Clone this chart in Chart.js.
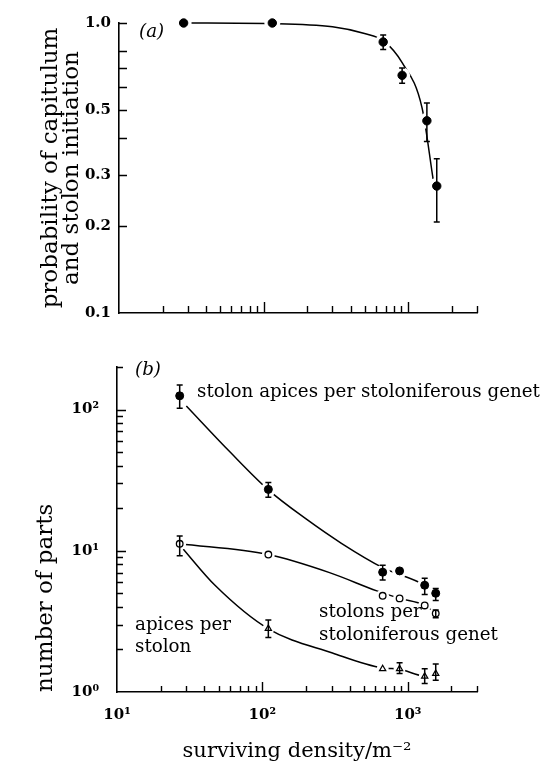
<!DOCTYPE html>
<html>
<head>
<meta charset="utf-8">
<script src="https://cdn.jsdelivr.net/npm/chart.js@4.4.0/dist/chart.umd.min.js"></script>
<style>
  html, body { margin: 0; padding: 0; background: #fff; }
  #wrap { position: relative; width: 545px; height: 764px; overflow: hidden; font-family: 'DejaVu Serif', serif; color: #000; }
  canvas { position: absolute; left: 0; }
  #chartA { top: 0; }
  #chartB { top: 340px; }
  .note { position: absolute; font-size: 18.3px; line-height: 23px; white-space: nowrap; }
</style>
</head>
<body>
<div id="wrap">
  <canvas id="chartA" width="545" height="340"></canvas>
  <canvas id="chartB" width="545" height="424"></canvas>
  <div class="note" style="left:139px;top:19px;font-style:italic">(a)</div>
  <div class="note" style="left:135px;top:357px;font-style:italic">(b)</div>
  <div class="note" style="left:197px;top:379px">stolon apices per stoloniferous genet</div>
  <div class="note" style="left:319px;top:599px">stolons per<br>stoloniferous genet</div>
  <div class="note" style="left:135px;top:613px;line-height:22px">apices per<br>stolon</div>
</div>
<script>
// --- (a) probability of capitulum and stolon initiation ---
const densityA = [28, 115, 673, 910, 1350, 1580];
const probA    = [1.0, 1.0, 0.86, 0.66, 0.46, 0.274];
const probLo   = [null, null, 0.81, 0.62, 0.39, 0.206];
const probHi   = [null, null, 0.91, 0.70, 0.53, 0.34];
// fitted curve
const fitXA = [28, 115, 300, 500, 673, 910, 1250, 1490];
const fitYA = [1.0, 0.995, 0.97, 0.92, 0.87, 0.73, 0.51, 0.29];

// --- (b) number of parts ---
const densityB = [27, 110, 673, 880, 1310, 1560];
const apicesPerGenet = [125, 27.2, 7.05, 7.2, 5.7, 5.0];
const apicesGenetLo  = [102, 23.9, 6.2, null, 4.9, 4.45];
const apicesGenetHi  = [149, 30.4, 7.9, null, 6.4, 5.4];
const stolonsPerGenet = [11.2, 9.4, 4.8, 4.6, 4.1, 3.6];
const stolonsLo       = [9.2, null, null, null, null, 3.35];
const stolonsHi       = [12.7, null, null, null, null, 3.8];
const apicesPerStolon = [11.1, 2.81, 1.46, 1.46, 1.29, 1.35];
const apicesStolonLo  = [null, 2.43, null, 1.35, 1.15, 1.21];
const apicesStolonHi  = [null, 3.24, null, 1.61, 1.46, 1.58];

const fitX1 = [30, 60, 110, 200, 350, 673, 1310, 1560];
const fitY1 = [106, 50, 27, 16.8, 11.3, 7.6, 5.7, 5.0];
const fitX2 = [27, 110, 290, 614, 880, 1310, 1560];
const fitY2 = [11.2, 9.4, 7.0, 5.2, 4.6, 4.1, 3.6];
const fitX3 = [27, 48, 110, 304, 673, 880, 1310, 1560];
const fitY3 = [11.0, 5.6, 2.8, 1.89, 1.48, 1.45, 1.3, 1.33];

// --- axes ---
const xTicks = [10, 20, 30, 40, 50, 60, 70, 80, 90, 100, 200, 300, 400, 500, 600, 700, 800, 900, 1000, 2000, 3000];
const xLabelled = [10, 100, 1000];
const xTickLabels = ['10¹', '10²', '10³'];
const yTicksA = [0.1, 0.2, 0.3, 0.4, 0.5, 0.6, 0.7, 0.8, 1.0];
const yLabelledA = [0.1, 0.2, 0.3, 0.5, 1.0];
const yTicksB = [1, 2, 3, 4, 5, 6, 7, 8, 9, 10, 20, 30, 40, 50, 60, 70, 80, 90, 100, 200];
const yLabelledB = [1, 10, 100];
const yTickLabelsB = ['10⁰', '10¹', '10²'];

Chart.defaults.font.family = "'DejaVu Serif', serif";
Chart.defaults.color = '#000';

function pts(xs, ys) { return xs.map((x, i) => ({ x: x, y: ys[i] })); }
const isDecade = v => Math.abs(Math.log10(v) - Math.round(Math.log10(v))) < 1e-9;

// tick marks pointing into the plot
const inTicks = {
  id: 'inTicks',
  afterDraw(chart, args, o) {
    const ctx = chart.ctx, xs = chart.scales.x, ys = chart.scales.y;
    ctx.save();
    ctx.strokeStyle = '#000';
    ctx.lineWidth = 1.4;
    ctx.beginPath();
    xs.ticks.forEach(t => {
      if (t.value === xs.min) return;
      const px = Math.round(xs.getPixelForValue(t.value)) + 0.5;
      const len = isDecade(t.value) ? o.xMajor : o.xMinor;
      ctx.moveTo(px, ys.bottom); ctx.lineTo(px, ys.bottom - len);
    });
    ys.ticks.forEach(t => {
      if (t.value === ys.min) return;
      const py = Math.round(ys.getPixelForValue(t.value)) + 0.5;
      const len = o.yLabelled.includes(t.value) ? o.yMajor : o.yMinor;
      ctx.moveTo(xs.left, py); ctx.lineTo(xs.left + len, py);
    });
    ctx.stroke();
    ctx.restore();
  }
};

// white gap round the markers, so the fitted lines stop short of them
const halo = {
  id: 'halo',
  beforeDatasetDraw(chart, args) {
    const ds = chart.data.datasets[args.index];
    if (!ds.halo) return;
    const ctx = chart.ctx;
    ctx.save();
    ctx.fillStyle = '#fff';
    args.meta.data.forEach(p => { ctx.beginPath(); ctx.arc(p.x, p.y, ds.halo, 0, Math.PI * 2); ctx.fill(); });
    ctx.restore();
  }
};

const errorBars = {
  id: 'errorBars',
  afterDatasetsDraw(chart) {
    const ctx = chart.ctx, ys = chart.scales.y;
    ctx.save();
    ctx.strokeStyle = '#000';
    ctx.lineWidth = 1.5;
    chart.data.datasets.forEach((ds, i) => {
      if (!ds.errLo) return;
      chart.getDatasetMeta(i).data.forEach((p, j) => {
        if (ds.errLo[j] == null) return;
        const lo = ys.getPixelForValue(ds.errLo[j]);
        const hi = ys.getPixelForValue(ds.errHi[j]);
        ctx.beginPath();
        ctx.moveTo(p.x, lo); ctx.lineTo(p.x, hi);
        ctx.moveTo(p.x - 3, lo); ctx.lineTo(p.x + 3, lo);
        ctx.moveTo(p.x - 3, hi); ctx.lineTo(p.x + 3, hi);
        ctx.stroke();
      });
    });
    ctx.restore();
  }
};

function fitLine(xs, ys) {
  return {
    data: pts(xs, ys), showLine: true, borderColor: '#000', borderWidth: 1.5,
    pointRadius: 0, cubicInterpolationMode: 'monotone', order: 10, clip: false
  };
}

const tickFont = { family: "'DejaVu Serif', serif", size: 15, weight: 'bold' };
const titleFont = { family: "'DejaVu Serif', serif", size: 23, lineHeight: 0.9 };
const xTitleFont = { family: "'DejaVu Serif', serif", size: 21, lineHeight: 1.0 };

function xScale(showLabels, height, title) {
  return {
    type: 'logarithmic', min: 10, max: 3000,
    afterBuildTicks: s => { s.ticks = xTicks.map(v => ({ value: v })); },
    afterFit: s => { s.height = height; },
    grid: { display: false, drawTicks: false },
    border: { display: true, color: '#000', width: 1.6 },
    ticks: {
      display: showLabels, autoSkip: false, maxRotation: 0, padding: 14, font: tickFont,
      callback: v => { const k = xLabelled.indexOf(v); return k < 0 ? '' : xTickLabels[k]; }
    },
    title: title
  };
}

// --- chart (a) ---
new Chart(document.getElementById('chartA'), {
  type: 'scatter',
  data: {
    datasets: [
      fitLine(fitXA, fitYA),
      {
        data: pts(densityA, probA), errLo: probLo, errHi: probHi, halo: 8,
        pointRadius: 4.2, pointBackgroundColor: '#000', pointBorderColor: '#000', pointBorderWidth: 1,
        order: 1, clip: false
      }
    ]
  },
  options: {
    responsive: false, animation: false, events: [],
    layout: { padding: { top: 23, right: 68, left: 0, bottom: 0 } },
    plugins: { legend: { display: false }, tooltip: { enabled: false },
      inTicks: { xMajor: 11, xMinor: 7, yMajor: 8, yMinor: 8, yLabelled: yLabelledA } },
    scales: {
      x: xScale(false, 27, { display: false }),
      y: {
        type: 'logarithmic', min: 0.1, max: 1.0,
        afterBuildTicks: s => { s.ticks = yTicksA.map(v => ({ value: v })); },
        afterFit: s => { s.width = 119; },
        grid: { display: false, drawTicks: false },
        border: { display: true, color: '#000', width: 1.6 },
        ticks: { autoSkip: false, padding: 8, font: tickFont,
          callback: v => yLabelledA.includes(v) ? v.toFixed(1) : '' },
        title: { display: true, text: ['probability of capitulum', 'and stolon initiation'],
          font: titleFont, padding: { top: 41, bottom: 0 } }
      }
    }
  },
  plugins: [inTicks, halo, errorBars]
});

// --- chart (b) ---
new Chart(document.getElementById('chartB'), {
  type: 'scatter',
  data: {
    datasets: [
      fitLine(fitX1, fitY1),
      fitLine(fitX2, fitY2),
      fitLine(fitX3, fitY3),
      {
        data: pts(densityB, apicesPerStolon), errLo: apicesStolonLo, errHi: apicesStolonHi, halo: 6,
        pointStyle: 'triangle', pointRadius: 3.6, pointBackgroundColor: '#fff', pointBorderColor: '#000', pointBorderWidth: 1.2,
        order: 3, clip: false
      },
      {
        data: pts(densityB, stolonsPerGenet), errLo: stolonsLo, errHi: stolonsHi, halo: 6.5,
        pointRadius: 3.3, pointBackgroundColor: '#fff', pointBorderColor: '#000', pointBorderWidth: 1.3,
        order: 2, clip: false
      },
      {
        data: pts(densityB, apicesPerGenet), errLo: apicesGenetLo, errHi: apicesGenetHi, halo: 7.5,
        pointRadius: 4, pointBackgroundColor: '#000', pointBorderColor: '#000', pointBorderWidth: 1,
        order: 1, clip: false
      }
    ]
  },
  options: {
    responsive: false, animation: false, events: [],
    layout: { padding: { top: 19, right: 68, left: 0, bottom: 0 } },
    plugins: { legend: { display: false }, tooltip: { enabled: false },
      inTicks: { xMajor: 10, xMinor: 6, yMajor: 9, yMinor: 6, yLabelled: yLabelledB } },
    scales: {
      x: xScale(true, 72, { display: true, text: 'surviving density/m⁻²', font: xTitleFont, padding: { top: 0, bottom: 2 } }),
      y: {
        type: 'logarithmic', min: 1, max: 200,
        afterBuildTicks: s => { s.ticks = yTicksB.map(v => ({ value: v })); },
        afterFit: s => { s.width = 117; },
        grid: { display: false, drawTicks: false },
        border: { display: true, color: '#000', width: 1.6 },
        ticks: { autoSkip: false, padding: 18, font: tickFont,
          callback: v => { const k = yLabelledB.indexOf(v); return k < 0 ? '' : yTickLabelsB[k]; } },
        title: { display: true, text: 'number of parts', font: titleFont, align: 'start',
          padding: { top: 36, bottom: 0 } }
      }
    }
  },
  plugins: [inTicks, halo, errorBars]
});
</script>
</body>
</html>
